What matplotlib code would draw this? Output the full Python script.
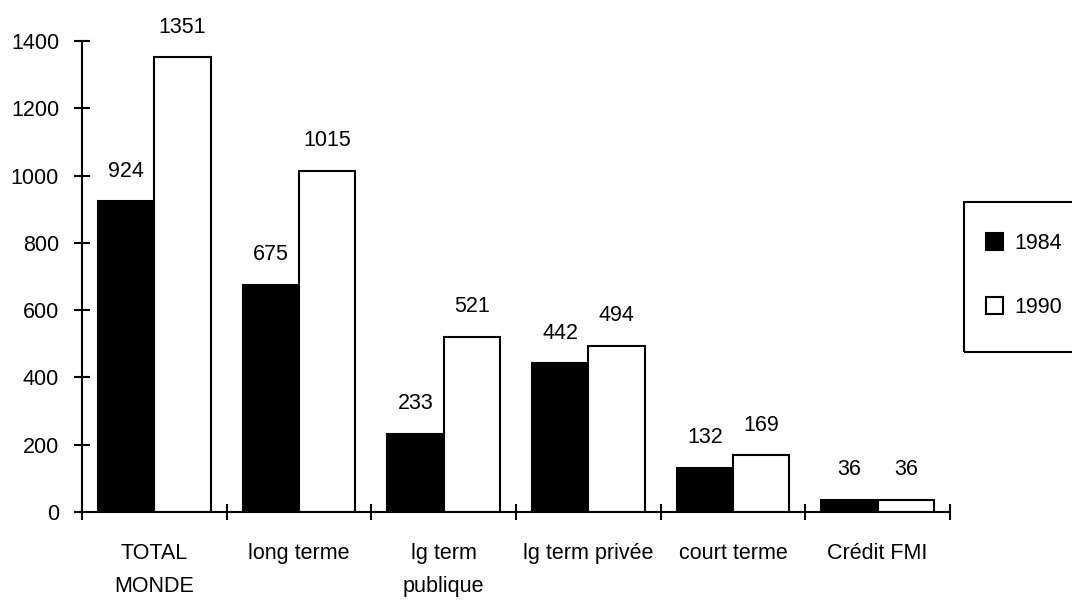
import numpy as np
import matplotlib.pyplot as plt
from matplotlib.patches import Rectangle

categories = ['TOTAL\nMONDE', 'long terme', 'lg term\npublique', 'lg term privée',
              'court terme', 'Crédit FMI']
debt_1984 = [924, 675, 233, 442, 132, 36]
debt_1990 = [1351, 1015, 521, 494, 169, 36]
years = ['1984', '1990']

plt.rcParams['font.family'] = ['Liberation Sans', 'DejaVu Sans']
plt.rcParams['font.size'] = 15.5

fig = plt.figure(figsize=(10.72, 6.0), dpi=100)
ax = fig.add_axes([82 / 1072, 1 - 512 / 600, 868 / 1072, 471 / 600])

x = np.arange(len(categories))
w = 0.39
b1 = ax.bar(x - w / 2, debt_1984, w, color='black', edgecolor='black', linewidth=1.5)
b2 = ax.bar(x + w / 2, debt_1990, w, color='white', edgecolor='black', linewidth=1.5)

for bars, vals in ((b1, debt_1984), (b2, debt_1990)):
    for r, v in zip(bars, vals):
        ax.annotate(str(v), (r.get_x() + r.get_width() / 2, v), xytext=(0, 14),
                    textcoords='offset points', ha='center', va='bottom')

ax.set_xlim(-0.5, len(categories) - 0.5)
ax.set_ylim(0, 1400)
ax.set_yticks(np.arange(0, 1401, 200))

# category boundaries carry the ticks, labels sit at the centres
ax.set_xticks(np.arange(-0.5, len(categories)), minor=False)
ax.set_xticklabels([])
ax.set_xticks(x, minor=True)
ax.set_xticklabels(categories, minor=True, linespacing=1.75, va='top')
ax.tick_params(axis='x', which='minor', length=0, pad=22)
ax.tick_params(axis='x', which='major', direction='inout', length=11, width=1.5)
ax.tick_params(axis='y', direction='inout', length=11, width=1.5, pad=11)

for s in ('top', 'right'):
    ax.spines[s].set_visible(False)
for s in ('left', 'bottom'):
    ax.spines[s].set_linewidth(1.5)

# legend box runs past the right edge of the figure
fig.patches.append(Rectangle((964 / 1072, 1 - 352 / 600), 0.2, 150 / 600,
                             transform=fig.transFigure, fill=False,
                             edgecolor='black', linewidth=1.5, clip_on=False))
fig.legend([b1, b2], years, loc='upper left', bbox_to_anchor=(975 / 1072, 1 - 222 / 600),
           frameon=False, handlelength=0.8, handleheight=0.8, handletextpad=0.55,
           labelspacing=2.0, borderpad=0)

fig.savefig('out.png', dpi=100)
